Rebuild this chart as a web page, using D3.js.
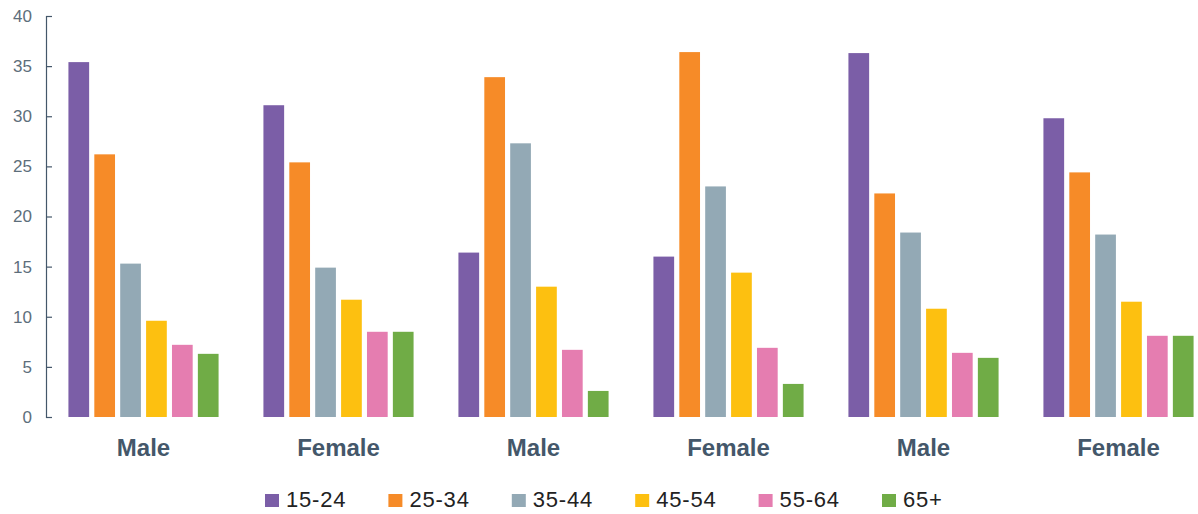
<!DOCTYPE html>
<html>
<head>
<meta charset="utf-8">
<script src="https://cdn.jsdelivr.net/npm/d3@7"></script>
<style>
  html, body { margin: 0; padding: 0; background: #ffffff; }
  svg { display: block; font-family: "Liberation Sans", Arial, Helvetica, sans-serif; }
</style>
</head>
<body>
<svg id="chart" width="1198" height="514"></svg>
<script>
// ---- data ----
const categories = ["Male", "Female", "Male", "Female", "Male", "Female"];
const ageGroups = ["15-24", "25-34", "35-44", "45-54", "55-64", "65+"];
const s15_24 = [35.4, 31.1, 16.4, 16.0, 36.3, 29.8];
const s25_34 = [26.2, 25.4, 33.9, 36.4, 22.3, 24.4];
const s35_44 = [15.3, 14.9, 27.3, 23.0, 18.4, 18.2];
const s45_54 = [9.6, 11.7, 13.0, 14.4, 10.8, 11.5];
const s55_64 = [7.2, 8.5, 6.7, 6.9, 6.4, 8.1];
const s65p   = [6.3, 8.5, 2.6, 3.3, 5.9, 8.1];
const yTicks = [0, 5, 10, 15, 20, 25, 30, 35, 40];
const colors = ["#7b5ea7", "#f68b28", "#93a9b5", "#fdc010", "#e57db0", "#70ac46"];

const seriesValues = [s15_24, s25_34, s35_44, s45_54, s55_64, s65p];

// ---- layout ----
const svg = d3.select("#chart");
const axisX = 46, yTop = 16, yBottom = 417;

const x0 = d3.scaleBand()
  .domain(d3.range(categories.length))
  .range([axisX, 1216])
  .paddingInner(0.23)
  .paddingOuter(0.115);

const x1 = d3.scaleBand()
  .domain(ageGroups)
  .range([0, x0.bandwidth()])
  .paddingInner(0.2)
  .paddingOuter(0);

const y = d3.scaleLinear().domain([0, 40]).range([yBottom, yTop]);
const color = d3.scaleOrdinal().domain(ageGroups).range(colors);

// ---- bars ----
const groups = svg.append("g").selectAll("g")
  .data(categories.map((c, i) => ({ c, i })))
  .join("g")
  .attr("transform", d => `translate(${x0(d.i)},0)`);

groups.selectAll("rect")
  .data(d => ageGroups.map((a, k) => ({ a, v: seriesValues[k][d.i] })))
  .join("rect")
  .attr("x", d => x1(d.a))
  .attr("width", x1.bandwidth())
  .attr("y", d => y(d.v))
  .attr("height", d => y(0) - y(d.v))
  .attr("fill", d => color(d.a));

// ---- y axis ----
const yAxis = d3.axisLeft(y)
  .tickValues(yTicks)
  .tickSizeInner(-6)
  .tickSizeOuter(-6)
  .tickPadding(14);

const ga = svg.append("g")
  .attr("transform", `translate(${axisX},0)`)
  .call(yAxis);
ga.select(".domain").attr("stroke", "#44576a").attr("stroke-width", 1.2);
ga.selectAll(".tick line").attr("stroke", "#44576a").attr("stroke-width", 1.2);
ga.selectAll(".tick text")
  .attr("fill", "#5d6e7b")
  .style("font-size", "17px")
  .style("font-family", "\"Liberation Sans\", Arial, sans-serif");

// ---- category labels ----
svg.append("g").selectAll("text")
  .data(categories.map((c, i) => ({ c, i })))
  .join("text")
  .attr("x", d => x0(d.i) + x0.bandwidth() / 2)
  .attr("y", 456)
  .attr("text-anchor", "middle")
  .attr("fill", "#44576a")
  .style("font-size", "24px")
  .style("font-weight", "bold")
  .text(d => d.c);

// ---- legend ----
const legendX = d3.scalePoint().domain(ageGroups).range([265, 882]);
const lg = svg.append("g").selectAll("g")
  .data(ageGroups)
  .join("g")
  .attr("transform", d => `translate(${legendX(d)},0)`);
lg.append("rect")
  .attr("x", 0).attr("y", 494)
  .attr("width", 14).attr("height", 13)
  .attr("fill", d => color(d));
lg.append("text")
  .attr("x", 21).attr("y", 507)
  .attr("fill", "#222222")
  .style("font-size", "22px")
  .style("letter-spacing", "0.8px")
  .text(d => d);
</script>
</body>
</html>
